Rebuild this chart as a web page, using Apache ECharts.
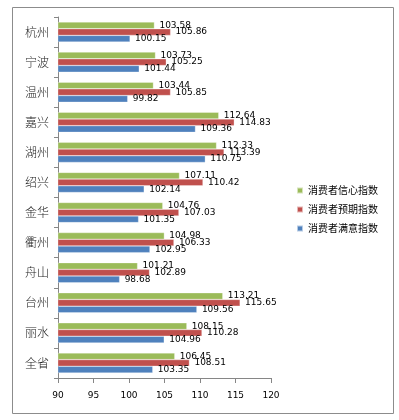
<!DOCTYPE html>
<html>
<head>
<meta charset="utf-8">
<script src="https://cdn.jsdelivr.net/npm/echarts@6/dist/echarts.min.js"></script>
<style>
  html, body { margin: 0; padding: 0; background: #fff; }
  #main { width: 399px; height: 420px; }
</style>
</head>
<body>
<div id="main"></div>
<script>
var cities = ['杭州', '宁波', '温州', '嘉兴', '湖州', '绍兴', '金华', '衢州', '舟山', '台州', '丽水', '全省'];
var confidence = [103.58, 103.73, 103.44, 112.64, 112.33, 107.11, 104.76, 104.98, 101.21, 113.21, 108.15, 106.45];
var expectation = [105.86, 105.25, 105.85, 114.83, 113.39, 110.42, 107.03, 106.33, 102.89, 115.65, 110.28, 108.51];
var satisfaction = [100.15, 101.44, 99.82, 109.36, 110.75, 102.14, 101.35, 102.95, 98.68, 109.56, 104.96, 103.35];

var chartDom = document.getElementById('main');
var myChart = echarts.init(chartDom);
var option;

function barSeries(name, data, color) {
    return {
        name: name,
        type: 'bar',
        data: data,
        barWidth: 6.7,
        barGap: '0%',
        itemStyle: {
            color: color,
            borderColor: 'rgba(255,255,255,0.6)',
            borderWidth: 0.5
        },
        label: {
            show: true,
            position: 'right',
            distance: 5,
            color: '#000',
            fontFamily: 'DejaVu Sans',
            fontSize: 9,
            formatter: function (p) { return p.value.toFixed(2); }
        }
    };
}

option = {
    animation: false,
    graphic: [
        {
            type: 'rect',
            shape: { x: 12.5, y: 7.5, width: 381, height: 406 },
            style: { fill: 'none', stroke: '#8c8c8c', lineWidth: 1 }
        }
    ],
    legend: {
        orient: 'vertical',
        left: 291,
        top: 179,
        itemWidth: 6,
        itemHeight: 6,
        itemGap: 6,
        icon: 'rect',
        textStyle: {
            fontFamily: 'Noto Sans CJK SC',
            fontSize: 10,
            lineHeight: 13,
            color: '#000'
        },
        data: ['消费者信心指数', '消费者预期指数', '消费者满意指数']
    },
    grid: {
        left: 58,
        top: 17,
        right: 128,
        bottom: 42
    },
    xAxis: {
        type: 'value',
        min: 90,
        max: 120,
        interval: 5,
        splitLine: { show: false },
        axisLine: { show: true, lineStyle: { color: '#868686' } },
        axisTick: { show: true, length: 5, lineStyle: { color: '#868686' } },
        axisLabel: {
            color: '#000',
            fontFamily: 'DejaVu Sans',
            fontSize: 9,
            margin: 13
        }
    },
    yAxis: {
        type: 'category',
        inverse: true,
        data: cities,
        axisLine: { show: true, lineStyle: { color: '#868686' } },
        axisTick: { show: true, length: 4, lineStyle: { color: '#868686' } },
        axisLabel: {
            color: '#222',
            fontFamily: 'Noto Sans CJK SC',
            fontSize: 12,
            fontWeight: 300,
            margin: 9
        }
    },
    series: [
        barSeries('消费者信心指数', confidence, '#9BBB59'),
        barSeries('消费者预期指数', expectation, '#C0504D'),
        barSeries('消费者满意指数', satisfaction, '#4F81BD')
    ]
};

option && myChart.setOption(option);
</script>
</body>
</html>
